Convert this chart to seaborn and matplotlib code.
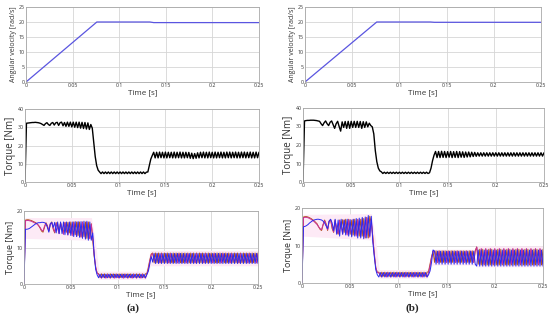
import numpy as np
import matplotlib
matplotlib.use("Agg")
import matplotlib.pyplot as plt
import seaborn as sns

# sample times for the torque traces (161 samples over 0..0.25 s)
time = np.linspace(0, 0.25, 161)

# angular velocity [rad/s]
vel_t_a = [0, 0.076, 0.079, 0.133, 0.137, 0.25]
vel_a = [0, 20.0, 20.0, 20.0, 19.8, 19.8]
vel_t_b = [0, 0.076, 0.079, 0.133, 0.137, 0.25]
vel_b = [0, 20.0, 20.0, 20.0, 19.9, 19.9]

# electromagnetic torque [Nm]
torque_a = [
    0, 32.2, 32.3, 32.4, 32.5, 32.6, 32.6, 32.7, 32.6, 32.5,
    32.3, 32.0, 31.5, 31.0, 32.0, 32.5, 31.5, 31.0, 32.2, 32.6,
    31.2, 32.4, 32.7, 31.0, 32.5, 32.8, 30.8, 32.6, 30.5, 32.8,
    30.5, 32.8, 30.2, 32.8, 30.0, 32.8, 29.8, 32.8, 29.5, 32.7,
    29.3, 32.6, 29.0, 32.4, 28.8, 31.5, 29.5, 22.0, 14.0, 9.0,
    6.5, 5.5, 4.6, 5.5, 4.6, 5.5, 4.6, 5.5, 4.6, 5.5,
    4.6, 5.5, 4.6, 5.5, 4.6, 5.5, 4.6, 5.5, 4.6, 5.5,
    4.6, 5.5, 4.6, 5.5, 4.6, 5.5, 4.6, 5.5, 4.6, 5.5,
    4.6, 5.5, 4.6, 5.4, 5.5, 9.0, 12.5, 14.5, 16.3, 13.2,
    16.3, 13.2, 16.4, 13.3, 16.3, 13.2, 16.4, 13.2, 16.3, 13.3,
    16.3, 13.2, 16.4, 13.2, 16.3, 13.3, 16.4, 13.2, 16.3, 13.2,
    16.3, 13.3, 16.2, 13.0, 15.8, 12.8, 15.6, 13.0, 16.0, 13.2,
    16.3, 13.3, 16.4, 13.2, 16.3, 13.2, 16.4, 13.3, 16.3, 13.2,
    16.4, 13.2, 16.3, 13.3, 16.4, 13.2, 16.3, 13.2, 16.4, 13.3,
    16.4, 13.2, 16.3, 13.3, 16.4, 13.2, 16.3, 13.2, 16.4, 13.3,
    16.4, 13.2, 16.3, 13.3, 16.4, 13.2, 16.3, 13.2, 16.4, 13.3,
    16.3,
]
torque_b = [
    0, 33.0, 33.2, 33.3, 33.3, 33.4, 33.4, 33.4, 33.3, 33.2,
    33.0, 32.8, 31.5, 30.5, 32.0, 33.0, 31.5, 30.5, 32.3, 33.0,
    31.0, 29.0, 31.5, 32.8, 30.0, 27.5, 32.5, 29.5, 32.7, 29.0,
    32.8, 29.0, 32.8, 29.5, 32.8, 29.5, 32.8, 29.5, 32.7, 29.0,
    32.6, 29.5, 32.5, 29.8, 31.8, 30.5, 29.8, 26.0, 17.0, 11.0,
    7.5, 6.0, 5.5, 4.6, 5.3, 4.6, 5.3, 4.6, 5.3, 4.6,
    5.3, 4.6, 5.3, 4.6, 5.3, 4.6, 5.3, 4.6, 5.3, 4.6,
    5.3, 4.6, 5.3, 4.6, 5.3, 4.6, 5.3, 4.6, 5.3, 4.6,
    5.3, 4.6, 5.3, 4.6, 5.0, 7.5, 11.5, 14.5, 16.5, 13.2,
    16.5, 13.2, 16.6, 13.3, 16.5, 13.2, 16.4, 13.4, 16.5, 13.2,
    16.4, 13.3, 16.5, 13.2, 16.4, 13.4, 16.3, 13.3, 16.2, 13.5,
    16.2, 13.6, 16.1, 13.8, 16.0, 13.9, 15.8, 14.0, 15.8, 14.0,
    15.8, 14.0, 15.8, 14.0, 15.8, 14.0, 15.8, 14.0, 15.8, 14.0,
    15.8, 14.0, 15.8, 14.0, 15.8, 14.0, 15.8, 14.0, 15.8, 14.0,
    15.8, 14.0, 15.8, 14.0, 15.8, 14.0, 15.8, 14.0, 15.8, 14.0,
    15.8, 14.0, 15.8, 14.0, 15.8, 14.0, 15.8, 14.0, 15.8, 14.0,
    15.8,
]

# per-phase torque [Nm], case (a)
phase1_a = [
    0, 17.5, 17.6, 17.6, 17.5, 17.4, 17.2, 17.0, 16.8, 16.5,
    16.0, 15.3, 14.5, 14.2, 15.5, 16.8, 16.0, 14.5, 16.5, 17.0,
    15.0, 14.0, 16.8, 16.5, 14.0, 16.8, 15.5, 14.0, 16.9, 14.2,
    16.9, 14.0, 17.0, 13.8, 17.0, 13.5, 17.0, 13.3, 17.0, 13.0,
    17.0, 13.0, 17.0, 12.5, 17.0, 12.5, 16.5, 12.0, 7.5, 4.5,
    3.0, 2.8, 1.8, 2.8, 1.8, 2.8, 1.8, 2.8, 1.8, 2.8,
    1.8, 2.8, 1.8, 2.8, 1.8, 2.8, 1.8, 2.8, 1.8, 2.8,
    1.8, 2.8, 1.8, 2.8, 1.8, 2.8, 1.8, 2.8, 1.8, 2.8,
    1.8, 2.8, 1.8, 2.8, 2.8, 4.5, 6.5, 8.2, 8.5, 5.8,
    8.5, 5.8, 8.5, 5.8, 8.5, 5.8, 8.5, 5.8, 8.5, 5.8,
    8.5, 5.8, 8.5, 5.8, 8.5, 5.8, 8.5, 5.8, 8.5, 5.8,
    8.5, 5.8, 8.5, 5.8, 8.5, 5.8, 8.5, 5.8, 8.5, 5.8,
    8.5, 5.8, 8.5, 5.8, 8.5, 5.8, 8.5, 5.8, 8.5, 5.8,
    8.5, 5.8, 8.5, 5.8, 8.5, 5.8, 8.5, 5.8, 8.5, 5.8,
    8.5, 5.8, 8.5, 5.8, 8.5, 5.8, 8.5, 5.8, 8.5, 5.8,
    8.5, 5.8, 8.5, 5.8, 8.5, 5.8, 8.5, 5.8, 8.5, 5.8,
    8.5,
]
phase2_a = [
    0, 15.0, 15.0, 15.1, 15.3, 15.6, 15.9, 16.2, 16.5, 16.7,
    16.8, 16.8, 16.9, 16.9, 16.8, 16.5, 15.5, 14.2, 16.5, 16.9,
    15.5, 16.9, 14.0, 17.0, 13.8, 17.0, 13.8, 17.0, 13.5, 17.0,
    13.5, 17.0, 13.3, 17.0, 13.0, 17.1, 13.0, 17.1, 12.8, 17.1,
    12.5, 17.2, 12.3, 17.2, 12.0, 17.0, 12.0, 14.0, 8.0, 4.0,
    2.5, 1.7, 2.7, 1.7, 2.7, 1.7, 2.7, 1.7, 2.7, 1.7,
    2.7, 1.7, 2.7, 1.7, 2.7, 1.7, 2.7, 1.7, 2.7, 1.7,
    2.7, 1.7, 2.7, 1.7, 2.7, 1.7, 2.7, 1.7, 2.7, 1.7,
    2.7, 1.7, 2.7, 1.7, 2.6, 3.5, 5.5, 7.5, 6.0, 8.4,
    5.6, 8.4, 5.6, 8.4, 5.6, 8.4, 5.6, 8.4, 5.6, 8.4,
    5.6, 8.4, 5.6, 8.4, 5.6, 8.4, 5.6, 8.4, 5.6, 8.4,
    5.6, 8.4, 5.6, 8.4, 5.6, 8.4, 5.6, 8.4, 5.6, 8.4,
    5.6, 8.4, 5.6, 8.4, 5.6, 8.4, 5.6, 8.4, 5.6, 8.4,
    5.6, 8.4, 5.6, 8.4, 5.6, 8.4, 5.6, 8.4, 5.6, 8.4,
    5.6, 8.4, 5.6, 8.4, 5.6, 8.4, 5.6, 8.4, 5.6, 8.4,
    5.6, 8.4, 5.6, 8.4, 5.6, 8.4, 5.6, 8.4, 5.6, 8.4,
    5.6,
]
phase3_a = [
    0, 17.3, 17.4, 17.4, 17.3, 17.2, 17.0, 16.8, 16.6, 16.4,
    16.0, 15.5, 14.8, 14.5, 15.8, 16.6, 15.8, 14.6, 16.4, 16.8,
    15.2, 14.2, 16.6, 15.2, 13.8, 16.7, 15.0, 13.6, 16.8, 15.0,
    13.4, 16.8, 15.0, 13.2, 16.9, 14.8, 13.0, 16.9, 14.8, 12.8,
    16.9, 14.6, 12.6, 16.9, 14.5, 12.4, 16.4, 13.0, 8.0, 4.8,
    3.0, 2.6, 2.1, 1.6, 2.6, 2.1, 1.6, 2.6, 2.1, 1.6,
    2.6, 2.1, 1.6, 2.6, 2.1, 1.6, 2.6, 2.1, 1.6, 2.6,
    2.1, 1.6, 2.6, 2.1, 1.6, 2.6, 2.1, 1.6, 2.6, 2.1,
    1.6, 2.6, 2.1, 1.6, 2.7, 4.0, 6.2, 8.0, 8.3, 7.0,
    5.8, 8.3, 7.0, 5.8, 8.3, 7.0, 5.8, 8.3, 7.0, 5.8,
    8.3, 7.0, 5.8, 8.3, 7.0, 5.8, 8.3, 7.0, 5.8, 8.3,
    7.0, 5.8, 8.3, 7.0, 5.8, 8.3, 7.0, 5.8, 8.3, 7.0,
    5.8, 8.3, 7.0, 5.8, 8.3, 7.0, 5.8, 8.3, 7.0, 5.8,
    8.3, 7.0, 5.8, 8.3, 7.0, 5.8, 8.3, 7.0, 5.8, 8.3,
    7.0, 5.8, 8.3, 7.0, 5.8, 8.3, 7.0, 5.8, 8.3, 7.0,
    5.8, 8.3, 7.0, 5.8, 8.3, 7.0, 5.8, 8.3, 7.0, 5.8,
    8.3,
]

# per-phase torque [Nm], case (b)
phase1_b = [
    0, 17.6, 17.7, 17.7, 17.6, 17.4, 17.2, 16.9, 16.6, 16.2,
    15.8, 15.0, 14.3, 14.0, 15.5, 16.8, 15.8, 14.0, 16.5, 16.9,
    14.5, 13.5, 16.8, 14.0, 13.0, 16.8, 14.5, 16.9, 13.5, 17.0,
    13.5, 17.0, 13.0, 16.8, 12.8, 17.0, 13.0, 16.9, 12.5, 17.0,
    12.5, 17.2, 12.0, 17.5, 12.0, 17.8, 16.0, 12.5, 7.5, 4.0,
    2.8, 2.9, 1.8, 2.9, 1.8, 2.9, 1.8, 2.9, 1.8, 2.9,
    1.8, 2.9, 1.8, 2.9, 1.8, 2.9, 1.8, 2.9, 1.8, 2.9,
    1.8, 2.9, 1.8, 2.9, 1.8, 2.9, 1.8, 2.9, 1.8, 2.9,
    1.8, 2.9, 1.8, 2.9, 3.0, 5.0, 7.0, 8.5, 5.5, 8.6,
    5.5, 8.6, 5.5, 8.6, 5.5, 8.6, 5.5, 8.6, 5.5, 8.6,
    5.5, 8.6, 5.5, 8.6, 5.5, 8.6, 5.5, 8.6, 5.5, 8.6,
    5.5, 8.6, 5.5, 8.6, 5.5, 8.6, 9.6, 5.0, 9.0, 4.8,
    9.0, 4.8, 9.0, 4.8, 9.0, 4.8, 9.0, 4.8, 9.0, 4.8,
    9.0, 4.8, 9.0, 4.8, 9.0, 4.8, 9.0, 4.8, 9.0, 4.8,
    9.0, 4.8, 9.0, 4.8, 9.0, 4.8, 9.0, 4.8, 9.0, 4.8,
    9.0, 4.8, 9.0, 4.8, 9.0, 4.8, 9.0, 4.8, 9.0, 4.8,
    9.0,
]
phase2_b = [
    0, 15.0, 15.1, 15.3, 15.6, 16.0, 16.3, 16.6, 16.8, 16.9,
    17.0, 17.0, 16.9, 16.8, 16.5, 16.0, 15.2, 14.5, 16.5, 17.0,
    16.0, 14.0, 17.0, 13.0, 16.8, 12.5, 17.0, 13.0, 16.8, 12.8,
    17.0, 12.5, 16.9, 12.3, 17.0, 12.5, 17.2, 12.0, 17.3, 12.0,
    17.5, 11.8, 17.6, 12.0, 18.0, 12.5, 17.8, 11.0, 7.0, 3.5,
    2.2, 1.6, 2.8, 1.6, 2.8, 1.6, 2.8, 1.6, 2.8, 1.6,
    2.8, 1.6, 2.8, 1.6, 2.8, 1.6, 2.8, 1.6, 2.8, 1.6,
    2.8, 1.6, 2.8, 1.6, 2.8, 1.6, 2.8, 1.6, 2.8, 1.6,
    2.8, 1.6, 2.8, 1.6, 2.2, 3.2, 5.5, 8.8, 8.5, 5.0,
    8.5, 5.0, 8.5, 5.0, 8.5, 5.0, 8.5, 5.0, 8.5, 5.0,
    8.5, 5.0, 8.5, 5.0, 8.5, 5.0, 8.5, 5.0, 8.5, 5.0,
    8.5, 5.0, 8.5, 5.0, 8.5, 5.0, 4.5, 8.8, 4.5, 8.8,
    4.5, 8.8, 4.5, 8.8, 4.5, 8.8, 4.5, 8.8, 4.5, 8.8,
    4.5, 8.8, 4.5, 8.8, 4.5, 8.8, 4.5, 8.8, 4.5, 8.8,
    4.5, 8.8, 4.5, 8.8, 4.5, 8.8, 4.5, 8.8, 4.5, 8.8,
    4.5, 8.8, 4.5, 8.8, 4.5, 8.8, 4.5, 8.8, 4.5, 8.8,
    4.5,
]
phase3_b = [
    0, 17.4, 17.5, 17.5, 17.4, 17.2, 17.0, 16.7, 16.4, 16.0,
    15.6, 15.0, 14.5, 14.2, 15.6, 16.6, 15.5, 14.2, 16.4, 16.8,
    15.0, 13.6, 16.6, 14.8, 13.2, 16.7, 14.8, 13.0, 16.8, 14.6,
    12.8, 16.9, 14.6, 12.6, 16.9, 14.5, 12.5, 17.0, 14.4, 12.4,
    17.2, 14.5, 12.2, 17.4, 14.6, 12.2, 17.0, 12.0, 7.8, 4.2,
    2.8, 2.7, 2.2, 1.6, 2.7, 2.2, 1.6, 2.7, 2.2, 1.6,
    2.7, 2.2, 1.6, 2.7, 2.2, 1.6, 2.7, 2.2, 1.6, 2.7,
    2.2, 1.6, 2.7, 2.2, 1.6, 2.7, 2.2, 1.6, 2.7, 2.2,
    1.6, 2.7, 2.2, 1.6, 2.8, 4.5, 6.8, 8.4, 8.5, 7.0,
    5.5, 8.5, 7.0, 5.5, 8.5, 7.0, 5.5, 8.5, 7.0, 5.5,
    8.5, 7.0, 5.5, 8.5, 7.0, 5.5, 8.5, 7.0, 5.5, 8.5,
    7.0, 5.5, 8.5, 7.0, 5.5, 8.5, 9.6, 7.0, 5.0, 9.2,
    7.0, 5.0, 9.2, 7.0, 5.0, 9.2, 7.0, 5.0, 9.2, 7.0,
    5.0, 9.2, 7.0, 5.0, 9.2, 7.0, 5.0, 9.2, 7.0, 5.0,
    9.2, 7.0, 5.0, 9.2, 7.0, 5.0, 9.2, 7.0, 5.0, 9.2,
    7.0, 5.0, 9.2, 7.0, 5.0, 9.2, 7.0, 5.0, 9.2, 7.0,
    5.0,
]

# light pink envelope behind the phase torques
band_t = [0, 0.001, 0.072, 0.076, 0.08, 0.13, 0.135, 0.18, 0.181, 0.25]
band_lo_a = [0, 12.5, 12.0, 6.0, 1.3, 1.3, 5.0, 5.0, 5.0, 5.0]
band_hi_a = [0, 18.2, 18.2, 12.0, 3.5, 3.5, 9.2, 9.2, 9.2, 9.2]
band_lo_b = [0, 12.5, 11.5, 6.0, 1.3, 1.3, 4.8, 4.8, 4.3, 4.3]
band_hi_b = [0, 18.3, 18.5, 12.0, 3.6, 3.6, 9.0, 9.0, 9.9, 9.9]

x_ticks = [0, 0.05, 0.1, 0.15, 0.2, 0.25]
x_tick_labels = ["0", "0.05", "0.1", "0.15", "0.2", "0.25"]

sns.set_theme(style="whitegrid")
plt.rcParams['font.family'] = ['Open Sans', 'DejaVu Sans']

fig = plt.figure(figsize=(5.5, 3.24), dpi=100)
fig.patch.set_facecolor('white')

W, H = 550.0, 324.0


def make_axes(left, right, top, bottom):
    return fig.add_axes([left / W, 1 - bottom / H, (right - left) / W, (bottom - top) / H])


def style_axes(ax, yticks, ylabel, ylabel_size):
    ax.set_xlim(0, 0.25)
    ax.set_ylim(yticks[0], yticks[-1])
    ax.set_xticks(x_ticks)
    ax.set_xticklabels(x_tick_labels)
    ax.set_yticks(yticks)
    ax.set_yticklabels([str(v) for v in yticks])
    ax.tick_params(axis='both', labelsize=3.8, colors='#333333', length=0, pad=1)
    ax.grid(True, color='#d6d6d6', linewidth=0.6, linestyle='-')
    for sp in ax.spines.values():
        sp.set_color('#a8a8a8')
        sp.set_linewidth(0.6)
    ax.set_facecolor('white')
    ax.set_xlabel('Time [s]', fontsize=5.8, color='#333333', labelpad=0.5)
    ax.set_ylabel(ylabel, fontsize=ylabel_size, color='#333333', labelpad=1)


panels = {
    'a': dict(vel=(vel_t_a, vel_a), torque=torque_a, phases=(phase1_a, phase3_a, phase2_a),
              band=(band_lo_a, band_hi_a),
              boxes=[(26, 259, 7, 82), (25, 259, 109, 182), (24, 258, 211, 284)], label_x=133),
    'b': dict(vel=(vel_t_b, vel_b), torque=torque_b, phases=(phase1_b, phase3_b, phase2_b),
              band=(band_lo_b, band_hi_b),
              boxes=[(305, 541, 7, 82), (303, 544, 108, 182), (302, 543, 208, 283)], label_x=412),
}

phase_colors = ['#b5561c', '#c8309a', '#2a2af0']

for name, p in panels.items():
    # angular velocity
    ax = make_axes(*p['boxes'][0])
    sns.lineplot(x=p['vel'][0], y=p['vel'][1], ax=ax, color='#5a55e0', linewidth=0.9,
                 estimator=None, legend=False)
    style_axes(ax, [0, 5, 10, 15, 20, 25], 'Angular velocity [rad/s]', 5.0)

    # total torque
    ax = make_axes(*p['boxes'][1])
    sns.lineplot(x=time, y=p['torque'], ax=ax, color='black', linewidth=1.0,
                 estimator=None, legend=False)
    style_axes(ax, [0, 10, 20, 30, 40], 'Torque [Nm]', 7.0)

    # phase torques
    ax = make_axes(*p['boxes'][2])
    ax.fill_between(band_t, p['band'][0], p['band'][1], color='#fdeaf6', linewidth=0)
    for vals, c in zip(p['phases'], phase_colors):
        sns.lineplot(x=time, y=vals, ax=ax, color=c, linewidth=0.7,
                     estimator=None, legend=False)
    style_axes(ax, [0, 10, 20], 'Torque [Nm]', 6.4)

    fig.text(p['label_x'] / W, 1 - 308 / H, '(%s)' % name, ha='center', va='center',
             fontsize=8, fontweight='bold', family=['Liberation Serif', 'DejaVu Serif'])

fig.savefig('out.png', dpi=100, facecolor='white')
